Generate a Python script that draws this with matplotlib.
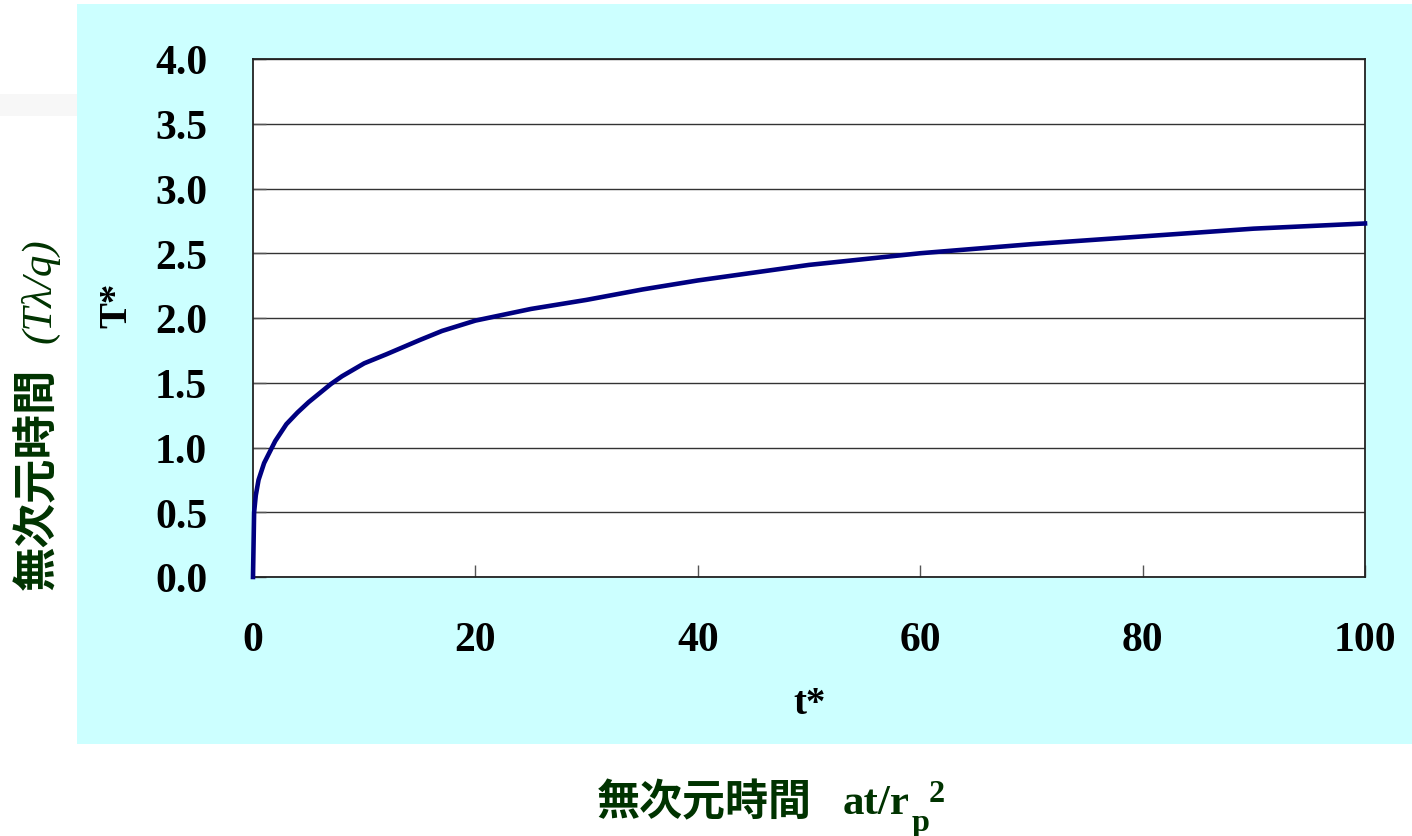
import matplotlib
matplotlib.use('Agg')
import matplotlib.pyplot as plt
from matplotlib.patches import Rectangle

# values
t_star = [0, 0.1, 0.25, 0.5, 1, 2, 3, 4, 5, 6, 7, 8, 10, 12, 15, 17, 20,
          25, 30, 35, 40, 50, 60, 70, 80, 90, 100]
T_star = [0, 0.50, 0.63, 0.75, 0.88, 1.05, 1.18, 1.27, 1.35, 1.42, 1.49,
          1.55, 1.65, 1.72, 1.83, 1.90, 1.98, 2.07, 2.14, 2.22, 2.29, 2.41,
          2.50, 2.57, 2.63, 2.69, 2.73]
x_ticks = [0, 20, 40, 60, 80, 100]
y_ticks = [0.0, 0.5, 1.0, 1.5, 2.0, 2.5, 3.0, 3.5, 4.0]

W, H = 1412, 837
SERIF = 'Liberation Serif'
CJK = 'Noto Sans CJK JP'
GREEN = '#003300'
FS = 30      # tick labels
FS_T = 28    # T*, t*
FS_G = 31    # green outer titles

fig = plt.figure(figsize=(W / 100, H / 100), dpi=100)
fig.patch.set_facecolor('white')


def fx(px):
    return px / W


def fy(py):
    return 1 - py / H


# cyan panel and faint strip at the left
fig.patches.append(Rectangle((fx(77), fy(745)), fx(1412) - fx(77), fy(5) - fy(745),
                             transform=fig.transFigure, facecolor='#ccffff',
                             edgecolor='none', zorder=-5))
fig.patches.append(Rectangle((0, fy(117)), fx(77), fy(95) - fy(117),
                             transform=fig.transFigure, facecolor='#f7f7f7',
                             edgecolor='none', zorder=-5))

ax = fig.add_axes([fx(253), fy(578), fx(1365) - fx(253), fy(60) - fy(578)])
ax.set_zorder(2)
ax.set_facecolor('white')
ax.plot(t_star, T_star, color='#000080', lw=3.3, zorder=3, clip_on=False)

ax.set_xlim(0, 100)
ax.set_ylim(0, 4.0)
ax.set_xticks(x_ticks)
ax.set_yticks(y_ticks)
ax.set_xticklabels([str(v) for v in x_ticks])
ax.set_yticklabels(['%.1f' % v for v in y_ticks])
ax.yaxis.grid(True, color='#333333', lw=1.0)
ax.tick_params(axis='both', direction='in', length=9, width=1.0,
               color='#555555', labelsize=FS)
ax.tick_params(axis='x', pad=32)
ax.tick_params(axis='y', pad=33)
for lab in ax.get_xticklabels() + ax.get_yticklabels():
    lab.set_fontfamily(SERIF)
    lab.set_fontweight('bold')
for s in ax.spines.values():
    s.set_color('#222222')
    s.set_linewidth(1.3)

# inner axis titles
fig.text(fx(117), fy(305), 'T*', rotation=90, ha='center', va='center',
         fontsize=FS_T, fontfamily=SERIF, fontweight='bold')
fig.text(fx(810), fy(705), 't*', ha='center', va='center',
         fontsize=FS_T, fontfamily=SERIF, fontweight='bold')

# outer titles in green
fig.text(fx(37), fy(590), '無次元時間', rotation=90, ha='center', va='bottom',
         fontsize=FS_G + 1, fontfamily=CJK, fontweight='bold', color=GREEN)
fig.text(fx(40), fy(238), '(Tλ/q)', rotation=90, ha='center', va='top',
         fontsize=FS_G, fontfamily=SERIF, fontstyle='italic', color=GREEN)

fig.text(fx(597), fy(802), '無次元時間', ha='left', va='center',
         fontsize=FS_G, fontfamily=CJK, fontweight='bold', color=GREEN)
fig.text(fx(843), fy(804), 'at/r', ha='left', va='center',
         fontsize=FS_G, fontfamily=SERIF, fontweight='bold', color=GREEN)
fig.text(fx(912), fy(824), 'p', ha='left', va='center',
         fontsize=FS_G * 0.75, fontfamily=SERIF, fontweight='bold', color=GREEN)
fig.text(fx(929), fy(795), '2', ha='left', va='center',
         fontsize=FS_G * 0.75, fontfamily=SERIF, fontweight='bold', color=GREEN)

fig.savefig('out.png', dpi=100, facecolor=fig.get_facecolor())
